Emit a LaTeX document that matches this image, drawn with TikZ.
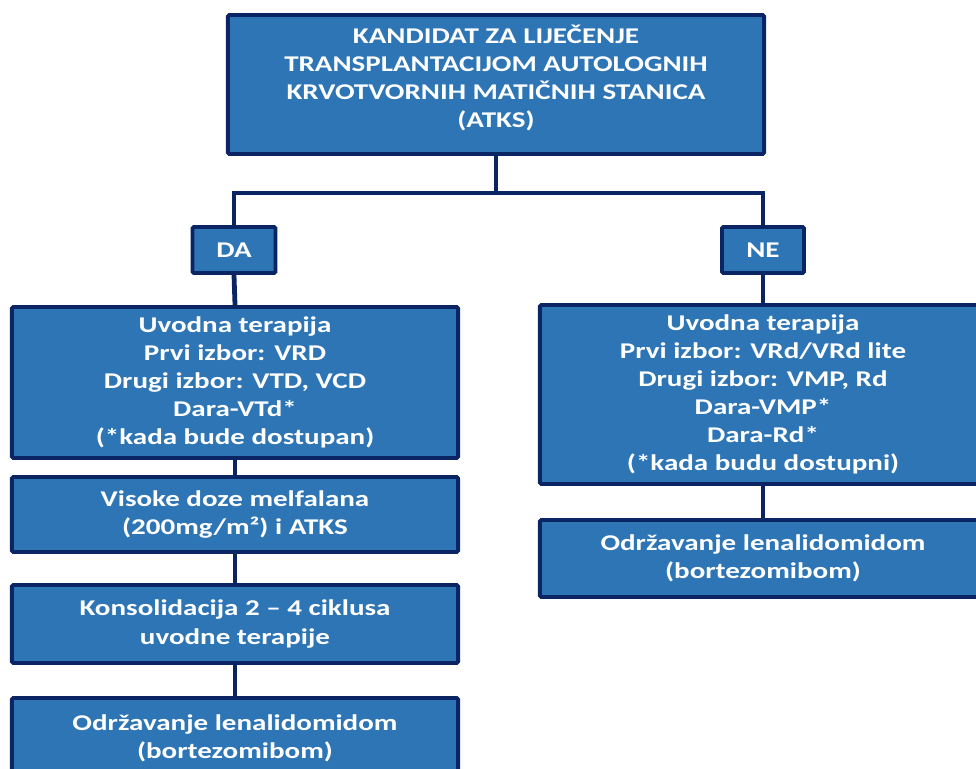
\documentclass[tikz,border=0pt]{standalone}
\usepackage{fontspec}
\setmainfont{Carlito}[FakeStretch=1.29]
\definecolor{boxblue}{RGB}{46,117,182}
\definecolor{navy}{RGB}{10,36,100}

\begin{document}
\begin{tikzpicture}[x=0.025cm, y=-0.025cm]
\tikzset{kutija/.style={draw=navy, fill=boxblue, line width=2.8pt, rounded corners=1pt,
    text=white, align=center, font=\bfseries\fontsize{16}{20}\selectfont, inner sep=2pt},
  veza/.style={navy, line width=3.4pt}}
\useasboundingbox (0,0) rectangle (976,769);
\clip (0,0) rectangle (976,769);
\node[kutija, minimum width=13.4cm, minimum height=3.475cm] (top) at (496,84.5)
  {KANDIDAT ZA LIJEČENJE\\TRANSPLANTACIJOM AUTOLOGNIH\\KRVOTVORNIH MATIČNIH STANICA\\(ATKS)\\[-8pt]};
\node[kutija, minimum width=2.075cm, minimum height=1.15cm] (da) at (234,250) {DA};
\node[kutija, minimum width=2.05cm, minimum height=1.15cm] (ne) at (763,250) {NE};
\node[kutija, minimum width=11.15cm, minimum height=3.775cm] (L1) at (235,382.5)
  {Uvodna terapija\\Prvi izbor: VRD\\Drugi izbor: VTD, VCD\\Dara-VTd*\\(*kada bude dostupan)};
\node[kutija, minimum width=11.15cm, minimum height=1.875cm] (L2) at (235,514.5)
  {Visoke doze melfalana\\(200mg/m²) i ATKS};
\node[kutija, minimum width=11.15cm, minimum height=1.95cm] (L3) at (235,624)
  {Konsolidacija 2 – 4 ciklusa\\uvodne terapije};
\node[kutija, minimum width=11.15cm, minimum height=2cm] (L4) at (235,738)
  {Održavanje lenalidomidom\\(bortezomibom)};
\node[kutija, minimum width=11.15cm, minimum height=4.475cm] (R1) at (763,394.5)
  {Uvodna terapija\\Prvi izbor: VRd/VRd lite\\Drugi izbor: VMP, Rd\\Dara-VMP*\\Dara-Rd*\\(*kada budu dostupni)};
\node[kutija, minimum width=11.15cm, minimum height=1.925cm] (R2) at (763,558.5)
  {Održavanje lenalidomidom\\(bortezomibom)};
\coordinate (grana) at (496,193);
\draw[veza] (top.south) -- (grana);
\draw[veza] (da.north) |- (grana) -| (ne.north);
\draw[veza] (da.south) -- (L1.north);
\draw[veza] (L1.south) -- (L2.north);
\draw[veza] (L2.south) -- (L3.north);
\draw[veza] (L3.south) -- (L4.north);
\draw[veza] (ne.south) -- (R1.north);
\draw[veza] (R1.south) -- (R2.north);
\end{tikzpicture}
\end{document}
